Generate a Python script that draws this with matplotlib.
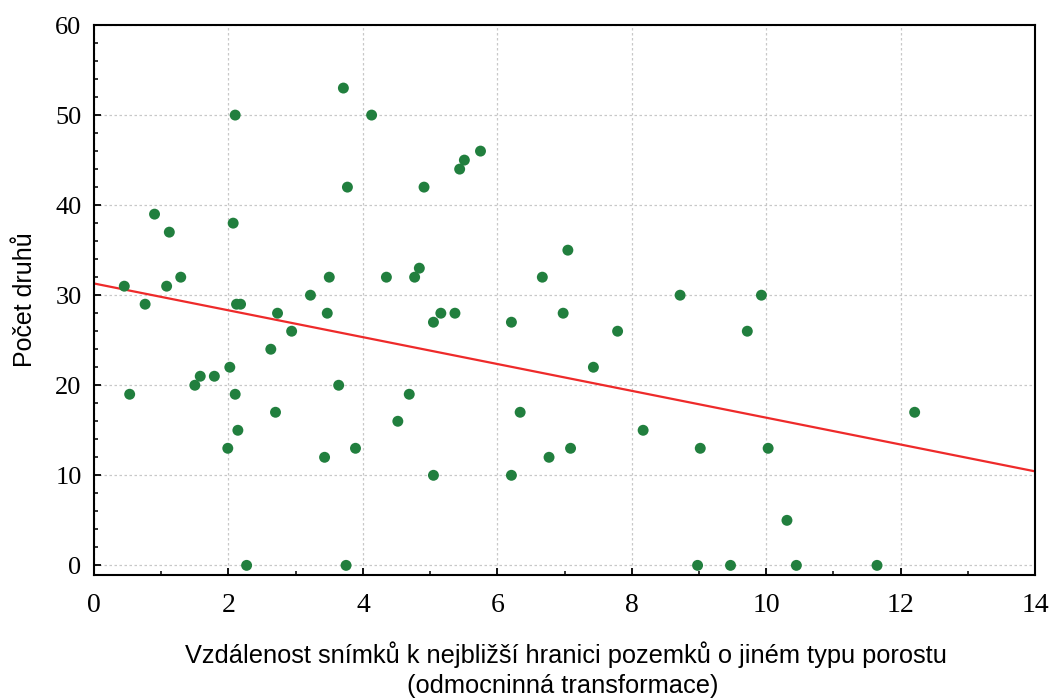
import numpy as np
import matplotlib
matplotlib.use("Agg")
import matplotlib.pyplot as plt
from matplotlib.ticker import MultipleLocator

# --- data ---
vzdalenost = [0.45, 0.53, 0.76, 0.90, 1.08, 1.12, 1.29, 1.50, 1.58, 1.79,
              1.99, 2.02, 2.07, 2.10, 2.10, 2.12, 2.14, 2.18, 2.27, 2.63,
              2.70, 2.73, 2.94, 3.22, 3.43, 3.47, 3.50, 3.64, 3.71, 3.75,
              3.77, 3.89, 4.13, 4.35, 4.52, 4.69, 4.77, 4.84, 4.91, 5.05,
              5.05, 5.16, 5.37, 5.44, 5.51, 5.75, 6.21, 6.21, 6.34, 6.67,
              6.77, 6.98, 7.05, 7.09, 7.43, 7.79, 8.17, 8.72, 8.98, 9.02,
              9.47, 9.72, 9.93, 10.03, 10.31, 10.45, 11.65, 12.21]
pocet_druhu = [31, 19, 29, 39, 31, 37, 32, 20, 21, 21,
               13, 22, 38, 50, 19, 29, 15, 29, 0, 24,
               17, 28, 26, 30, 12, 28, 32, 20, 53, 0,
               42, 13, 50, 32, 16, 19, 32, 33, 42, 27,
               10, 28, 28, 44, 45, 46, 27, 10, 17, 32,
               12, 28, 35, 13, 22, 26, 15, 30, 0, 13,
               0, 26, 30, 13, 5, 0, 0, 17]

# regression line (intercept, slope)
fit_intercept = 31.3
fit_slope = -1.49

x_ticks = [0, 2, 4, 6, 8, 10, 12, 14]
y_ticks = [0, 10, 20, 30, 40, 50, 60]

fig = plt.figure(figsize=(10.52, 6.99), dpi=100)
ax = fig.add_axes([0.0894, 0.1774, 0.8944, 0.7868])

# --- regression line ---
xl = np.linspace(0, 14, 200)
ax.plot(xl, fit_intercept + fit_slope * xl, color="#ee2a2a", lw=1.6, zorder=2)

# --- scatter ---
ax.scatter(vzdalenost, pocet_druhu, s=62, color="#217f3e", edgecolors="none",
           zorder=3, clip_on=False)

ax.set_xlim(0, 14)
ax.set_ylim(-1.07, 60)
ax.set_xticks(x_ticks)
ax.set_yticks(y_ticks)
ax.xaxis.set_minor_locator(MultipleLocator(1))
ax.yaxis.set_minor_locator(MultipleLocator(2))

ax.grid(True, which="major", color="#c8c8c8", ls=(0, (2, 2)), lw=0.9)
ax.set_axisbelow(True)

for s in ax.spines.values():
    s.set_linewidth(1.5)
    s.set_color("black")

ax.tick_params(which="major", direction="in", length=5, width=1.3,
               top=False, right=False)
ax.tick_params(which="minor", direction="in", length=3, width=1.1,
               top=False, right=False)
ax.tick_params(axis="y", labelsize=19, pad=9)
ax.tick_params(axis="x", labelsize=20, pad=13)
for lab in ax.get_xticklabels() + ax.get_yticklabels():
    lab.set_fontfamily("Liberation Serif")

fig.text(0.538, 0.063,
         "Vzdálenost snímků k nejbližší hranici pozemků o jiném typu porostu",
         ha="center", va="center", fontsize=18.3, family="Liberation Sans")
fig.text(0.535, 0.018, "(odmocninná transformace)",
         ha="center", va="center", fontsize=18.3, family="Liberation Sans")
fig.text(0.024, 0.571, "Počet druhů", rotation=90, ha="center", va="center",
         fontsize=18, family="Liberation Sans")

fig.savefig("out.png", dpi=100)
